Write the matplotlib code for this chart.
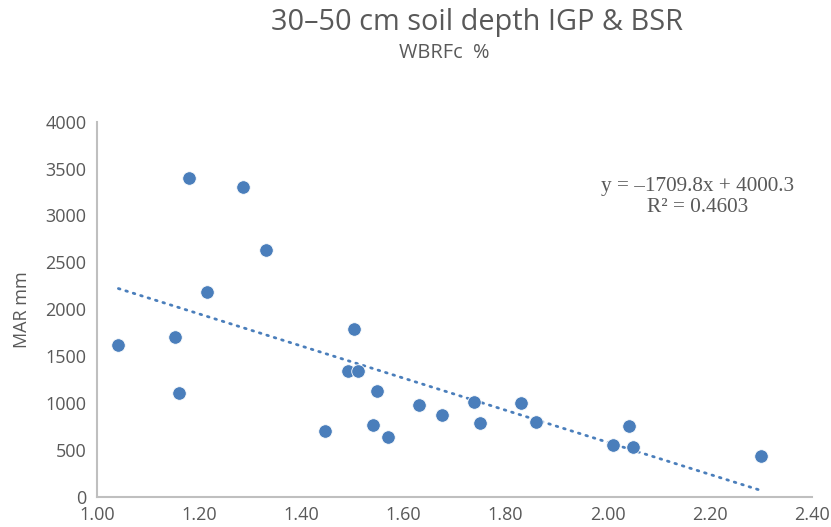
import numpy as np
import matplotlib.pyplot as plt

# data
wbrfc = [1.041, 1.152, 1.160, 1.180, 1.215, 1.285, 1.330, 1.446, 1.492, 1.511,
         1.502, 1.540, 1.547, 1.570, 1.630, 1.675, 1.738, 1.749, 1.830, 1.860,
         2.010, 2.041, 2.050, 2.300]
mar = [1621, 1704, 1103, 3397, 2180, 3301, 2632, 704, 1341, 1341,
       1786, 762, 1128, 634, 975, 872, 1007, 781, 1003, 794,
       552, 751, 530, 431]

slope = -1709.8
intercept = 4000.3
r2 = 0.4603

x_ticks = [1.00, 1.20, 1.40, 1.60, 1.80, 2.00, 2.20, 2.40]
y_ticks = [0, 500, 1000, 1500, 2000, 2500, 3000, 3500, 4000]

blue = '#4a7ebb'
grey = '#595959'
axis_grey = '#bfbfbf'

plt.rcParams['font.family'] = ['Open Sans', 'DejaVu Sans']

fig = plt.figure(figsize=(8.31, 5.27), dpi=100)
ax = fig.add_axes([0.1173, 0.0575, 0.8594, 0.7116])

ax.scatter(wbrfc, mar, s=95, color=blue, edgecolors='white', linewidths=0.6, zorder=3)

# linear trend line across the data range
xt = np.array([min(wbrfc), max(wbrfc)])
ax.plot(xt, slope * xt + intercept, color=blue, lw=2.0,
        linestyle=(0, (0.6, 2.2)), dash_capstyle='round', zorder=2)

ax.set_xlim(1.0, 2.4)
ax.set_ylim(0, 4000)
ax.set_xticks(x_ticks)
ax.set_xticklabels(['{:.2f}'.format(v) for v in x_ticks])
ax.set_yticks(y_ticks)
ax.tick_params(length=0, labelsize=13, colors=grey)
ax.tick_params(axis='y', pad=8)
ax.tick_params(axis='x', pad=7)

for side in ['top', 'right']:
    ax.spines[side].set_visible(False)
for side in ['left', 'bottom']:
    ax.spines[side].set_color(axis_grey)
    ax.spines[side].set_linewidth(1.5)

ax.set_ylabel('MAR mm', fontsize=13, color=grey, labelpad=10)

fig.text(0.574, 0.957, '30\u201350 cm soil depth IGP & BSR', ha='center', va='center',
         fontsize=20.8, color=grey)
fig.text(0.534, 0.900, 'WBRFc  %', ha='center', va='center', fontsize=14.3, color=grey)

eq = 'y = \u20131709.8x + 4000.3\nR\u00b2 = {:.4f}'.format(r2)
fig.text(0.840, 0.626, eq, ha='center', va='center', fontsize=15.3,
         family='Liberation Serif', color=grey, linespacing=1.2)

fig.savefig('out.png', dpi=100)
